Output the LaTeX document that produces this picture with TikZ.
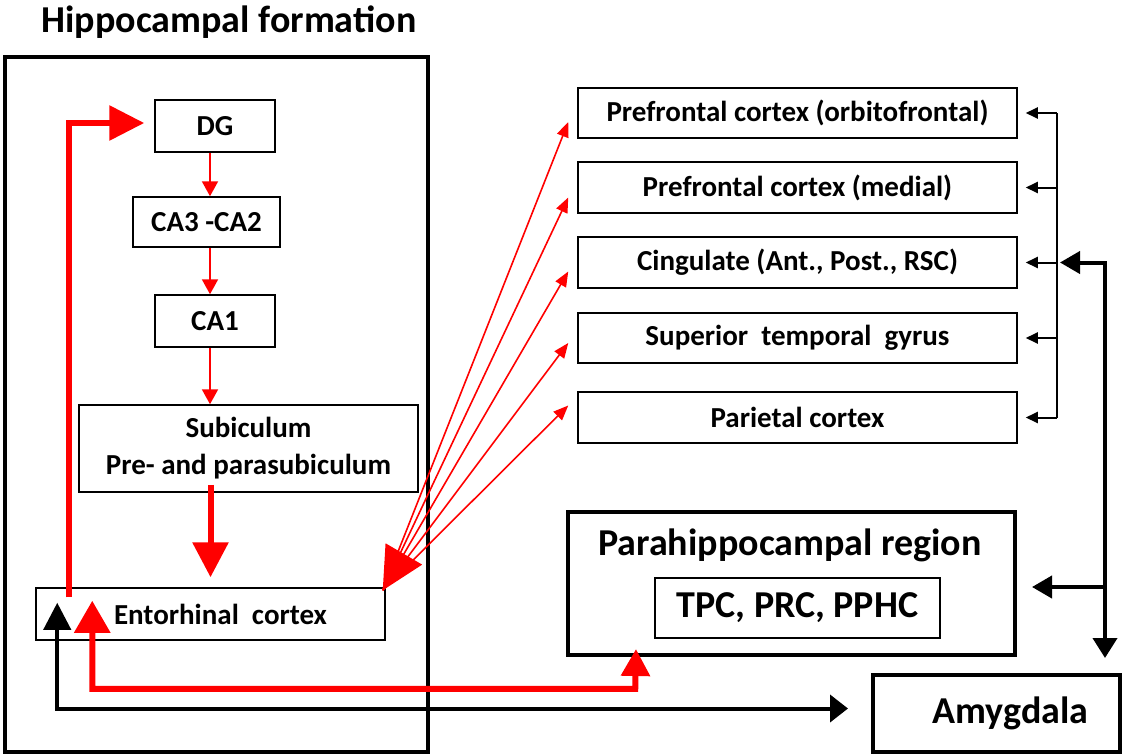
\documentclass[tikz,border=0pt]{standalone}
\usepackage{fontspec}
\setmainfont{Carlito}
\usepackage{tikz}
\usetikzlibrary{arrows.meta, calc, positioning}

\tikzset{
  box/.style={draw, line width=1.5pt, inner sep=0pt, align=center,
    font=\bfseries\fontsize{29}{37}\selectfont},
  bigbox/.style={box, line width=4pt, font=\bfseries\fontsize{38}{44}\selectfont},
  redthin/.style={draw=red, line width=2pt, -{Triangle[length=15pt,width=16pt]}},
  redfan/.style={draw=red, line width=1.6pt},
  redthick/.style={draw=red, line width=6pt},
  blkthin/.style={draw=black, line width=2pt, -{Triangle[length=12pt,width=11pt]}},
  blkthick/.style={draw=black, line width=4pt}
}

\begin{document}
\begin{tikzpicture}[x=1pt, y=-1pt]
\useasboundingbox (0,0) rectangle (1125,755);

\node [font=\bfseries\fontsize{38}{44}\selectfont] (title) at (229,22) {Hippocampal formation};
\draw [line width=4pt] (5,57) rectangle (428,752);

\node [box, minimum width=120pt, minimum height=52pt] (DG) at (215,126) {DG};
\node [box, minimum width=147pt, minimum height=50pt] (CA3) at (206.5,222) {CA3 -CA2};
\node [box, minimum width=120pt, minimum height=52pt] (CA1) at (215,321) {CA1};
\node [box, minimum width=339pt, minimum height=87pt] (Sub) at (248.5,448.5) {Subiculum\\Pre- and parasubiculum};
\node [box, minimum width=349pt, minimum height=52pt] (EC) at (210.5,614) {\hspace*{20pt}Entorhinal\ \ cortex};

\node [box, minimum width=439pt, minimum height=50pt] (pfo) at (797.5,113) {Prefrontal cortex (orbitofrontal)};
\node [box, minimum width=439pt, minimum height=51pt] (pfm) at (797.5,187.5) {Prefrontal cortex (medial)};
\node [box, minimum width=439pt, minimum height=51pt] (cing) at (797.5,262.5) {Cingulate (Ant., Post., RSC)};
\node [box, minimum width=439pt, minimum height=50pt] (stg) at (797.5,338) {Superior\ \ temporal\ \ gyrus};
\node [box, minimum width=439pt, minimum height=51pt] (par) at (797.5,417.5) {Parietal cortex};

\node [bigbox, minimum width=447pt, minimum height=143pt] (Para) at (791.5,583.5) {};
\node [font=\bfseries\fontsize{38}{44}\selectfont] (Paratitle) at (790,545) {Parahippocampal region};
\node [box, font=\bfseries\fontsize{38}{44}\selectfont, minimum width=285pt, minimum height=60pt] (TPC) at (797.5,608) {TPC, PRC, PPHC};
\node [bigbox, minimum width=247pt, minimum height=77pt] (Amy) at (996.5,713.5) {\hspace*{28pt}Amygdala};

\draw [redthin] (DG.south -| 210,0) -- (CA3.north -| 210,0);
\draw [redthin] (CA3.south -| 210,0) -- (CA1.north -| 210,0);
\draw [redthin] (CA1.south -| 210,0) -- (Sub.north -| 210,0);
\draw [redthick, -{Triangle[length=35pt,width=35pt]}] ($(Sub.south)+(-38,-8)$) -- ($(EC.north)+(0,-10)$);
\draw [redthick, -{Triangle[length=35pt,width=34pt]}] ($(EC.north west)+(34,10)$) |- ($(DG.west)+(-10,-3)$);

\coordinate (fan) at ($(EC.north east)+(-3,3)$);
\draw [redfan, {Triangle[length=42pt,width=42pt]}-{Triangle[length=15pt,width=12pt]}] (fan) -- ($(cing.west)+(-9,9)$);
\foreach \n/\dy in {pfo/9, pfm/10, stg/5, par/-12}
  \draw [redfan, -{Triangle[length=15pt,width=12pt]}] (fan) -- ($(\n.west)+(-9,\dy)$);

\draw [redthick, {Triangle[length=32pt,width=35pt]}-{Triangle[length=27pt,width=28pt]}]
  ($(EC.south west)+(57,-40)$) |- ++(543,88) -- ($(Para.south)+(-155.5,-8)$);
\draw [blkthick, {Triangle[length=27pt,width=27pt]}-{Triangle[length=18pt,width=27pt]}]
  ($(EC.south west)+(22,-38)$) |- ($(Amy.west)+(-23,-5)$);

\coordinate (vt) at (1057,113);
\coordinate (rv) at (1105,262.5);
\draw [line width=2pt] (pfo.east -| vt) -- (par.east -| vt);
\foreach \n in {pfo,pfm,cing,stg,par}
  \draw [blkthin] (\n.east -| vt) -- ($(\n.east)+(8,0)$);
\draw [blkthick, {Triangle[length=20pt,width=22pt]}-{Triangle[length=20pt,width=24pt]}]
  ($(cing.east -| vt)+(3,0)$) -| ($(Amy.north -| rv)+(0,-15)$);
\draw [blkthick, -{Triangle[length=20pt,width=22pt]}] (Para.east -| rv) ++(0,3.5) -- ($(Para.east)+(15,3.5)$);
\end{tikzpicture}
\end{document}
